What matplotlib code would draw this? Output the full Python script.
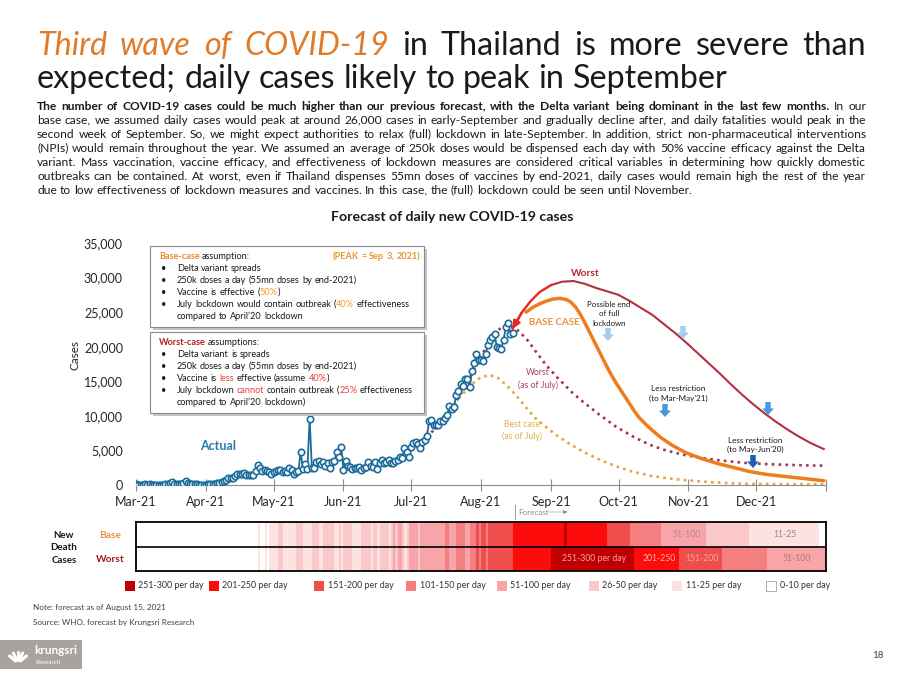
import numpy as np
import pandas as pd
import matplotlib
matplotlib.use('Agg')
import matplotlib.pyplot as plt
import matplotlib.dates as mdates
import matplotlib.transforms as mtransforms
from matplotlib.patches import Rectangle, FancyArrow
from matplotlib.lines import Line2D
from matplotlib.colors import ListedColormap, BoundaryNorm
from matplotlib.ticker import FuncFormatter

FONT = ['Lato', 'DejaVu Sans']
plt.rcParams['font.family'] = FONT

# ---------------------------------------------------------------- data
# actual daily new cases, 1 Mar 2021 - 15 Aug 2021
cases_mar = [90, 50, 45, 60, 80, 55, 80, 40, 45, 55, 60, 50, 65, 90, 150, 250, 450, 200, 120, 110,
             150, 300, 550, 250, 120, 100, 90, 90, 50, 45, 50]
cases_apr = [30, 90, 85, 85, 195, 250, 250, 405, 560, 790, 970, 985, 965, 1335, 1540, 1580, 1550, 1770,
             1390, 1440, 1460, 1470, 2070, 2840, 2440, 2050, 2180, 2010, 1870, 1580]
cases_may = [1890, 2040, 2100, 2110, 1910, 2040, 1900, 2420, 2100, 1630, 1920, 1980, 4800, 2260, 3090,
             2300, 9600, 2440, 2470, 3390, 3480, 3050, 3380, 2710, 3230, 2450, 3320, 3500, 4800, 4000, 5500]
cases_jun = [2200, 3440, 2740, 2630, 2300, 2420, 2420, 2660, 2230, 2420, 2630, 3280, 2800, 2660, 3300,
             2330, 3130, 3670, 3250, 3280, 3680, 3180, 3170, 3410, 3640, 4000, 3850, 5400, 4790, 4110]
cases_jul = [5530, 6090, 6230, 5920, 5420, 6170, 6520, 7060, 9280, 9330, 8660, 8690, 8690, 9320, 9190,
             9690, 10080, 11400, 10930, 11310, 13000, 13660, 14580, 14260, 15340, 15380, 14150, 16530,
             17670, 18910, 18030]
cases_aug = [18020, 17970, 18900, 20200, 20920, 21380, 21840, 19980, 19840, 19600, 21040, 22780, 23420,
             21880, 22000]
actual_cases = cases_mar + cases_apr + cases_may + cases_jun + cases_jul + cases_aug
actual_start = '2021-03-01'

# forecast scenarios
base_dates = ['2021-08-21', '2021-08-24', '2021-08-27', '2021-08-30', '2021-09-02', '2021-09-05',
              '2021-09-08', '2021-09-10', '2021-09-12', '2021-09-14', '2021-09-16', '2021-09-18',
              '2021-09-20', '2021-09-22', '2021-09-24', '2021-09-26', '2021-09-28', '2021-09-30',
              '2021-10-02', '2021-10-04', '2021-10-06', '2021-10-08', '2021-10-10', '2021-10-13',
              '2021-10-16', '2021-10-20', '2021-10-25', '2021-10-31', '2021-11-07', '2021-11-14',
              '2021-11-21', '2021-11-28', '2021-12-05', '2021-12-12', '2021-12-19', '2021-12-26',
              '2021-12-31']
base_vals = [25000, 25700, 26200, 26600, 26900, 27000, 26800, 26400, 25700, 24700, 23500, 22200,
             20900, 19600, 18300, 17000, 15800, 14700, 13700, 12700, 11700, 10700, 9800, 8800,
             7900, 6800, 5700, 4650, 3800, 3100, 2530, 1950, 1560, 1300, 1050, 800, 620]

worst_dates = ['2021-08-15', '2021-08-19', '2021-08-23', '2021-08-27', '2021-09-01', '2021-09-06',
               '2021-09-11', '2021-09-16', '2021-09-21', '2021-09-26', '2021-10-01', '2021-10-06',
               '2021-10-11', '2021-10-16', '2021-10-21', '2021-10-26', '2021-10-31', '2021-11-05',
               '2021-11-10', '2021-11-15', '2021-11-20', '2021-11-25', '2021-11-30', '2021-12-05',
               '2021-12-10', '2021-12-15', '2021-12-20', '2021-12-25', '2021-12-31']
worst_vals = [22600, 24900, 26600, 27900, 28900, 29400, 29500, 29100, 28500, 28000, 27500, 26600,
              25600, 24600, 23300, 22000, 20600, 19100, 17600, 16100, 14500, 13000, 11600, 10300,
              9100, 8000, 7000, 6100, 5200]

worst_july_dates = ['2021-07-10', '2021-07-15', '2021-07-20', '2021-07-25', '2021-07-30', '2021-08-03',
                    '2021-08-07', '2021-08-11', '2021-08-15', '2021-08-18', '2021-08-22', '2021-08-26',
                    '2021-08-30', '2021-09-04', '2021-09-10', '2021-09-15', '2021-09-22', '2021-09-30',
                    '2021-10-08', '2021-10-15', '2021-10-22', '2021-10-30', '2021-11-07', '2021-11-14',
                    '2021-11-21', '2021-11-28', '2021-12-07', '2021-12-16', '2021-12-25', '2021-12-31']
worst_july_vals = [7600, 9300, 11500, 14300, 17300, 19800, 22000, 23000, 22900, 22200, 20800, 19000,
                   17300, 15500, 13500, 12100, 10300, 8400, 6900, 5800, 5000, 4350, 3900, 3600, 3350,
                   3150, 3000, 2900, 2820, 2800]

best_july_dates = ['2021-07-12', '2021-07-16', '2021-07-20', '2021-07-24', '2021-07-28', '2021-08-01',
                   '2021-08-05', '2021-08-09', '2021-08-13', '2021-08-17', '2021-08-21', '2021-08-25',
                   '2021-08-29', '2021-09-03', '2021-09-09', '2021-09-16', '2021-09-23', '2021-09-30',
                   '2021-10-07', '2021-10-15', '2021-10-22', '2021-10-30', '2021-11-10', '2021-11-20',
                   '2021-11-30', '2021-12-15', '2021-12-31']
best_july_vals = [8800, 10000, 11700, 13200, 14600, 15600, 15900, 15400, 14200, 12800, 11200, 9700,
                  8600, 7300, 6000, 4700, 3600, 2700, 1950, 1350, 1000, 720, 420, 250, 150, 110, 100]

# daily new deaths, actual (1 Mar - 14 Aug 2021)
deaths_mar = [0] * 16 + [1] + [0] * 14
deaths_apr = [0, 0, 0, 0, 0, 0, 0, 0, 0, 0, 0, 1, 2, 1, 2, 1, 4, 2, 3, 2, 2, 4, 8, 11, 8, 8, 15, 8, 15, 17]
deaths_may = [21, 17, 31, 27, 18, 15, 18, 19, 14, 21, 31, 32, 34, 25, 17, 25, 25, 31, 35, 32, 25, 20,
              28, 28, 26, 41, 32, 24, 21, 32, 20]
deaths_jun = [26, 31, 39, 27, 24, 22, 21, 22, 31, 32, 28, 27, 20, 29, 29, 25, 42, 26, 26, 37, 22, 33,
              51, 44, 53, 51, 42, 22, 44, 53]
deaths_jul = [57, 61, 57, 44, 57, 53, 54, 75, 72, 91, 80, 80, 80, 98, 75, 141, 141, 86, 80, 81, 106,
              114, 114, 118, 87, 87, 118, 117, 118, 165, 141]
deaths_aug = [178, 188, 147, 188, 160, 191, 180, 170, 165, 175, 190, 176, 185, 195]
actual_deaths = deaths_mar + deaths_apr + deaths_may + deaths_jun + deaths_jul + deaths_aug

# forecast death bands (start date of each band, category label)
base_death_start = ['2021-08-15', '2021-09-07', '2021-09-08', '2021-09-26', '2021-10-06',
                    '2021-10-20', '2021-11-09', '2021-11-28', '2021-12-29']
base_death_cat = ['201-250', '251-300', '201-250', '151-200', '101-150', '51-100', '26-50', '11-25', '0-10']
worst_death_start = ['2021-08-15', '2021-09-01', '2021-10-08', '2021-10-28', '2021-11-16', '2021-12-06']
worst_death_cat = ['201-250', '251-300', '201-250', '151-200', '101-150', '51-100']

cat_labels = ['0-10', '11-25', '26-50', '51-100', '101-150', '151-200', '201-250', '251-300']
cat_upper = [10, 25, 50, 100, 150, 200, 250, 300]
cat_colors = ['#ffffff', '#fde2e2', '#fac8c8', '#f7a5a8', '#f47e80', '#f04d4d', '#fe0b0b', '#c00000']

month_ticks = pd.date_range('2021-03-01', '2022-01-01', freq='MS')
y_ticks = [0, 5000, 10000, 15000, 20000, 25000, 30000, 35000]

# ---------------------------------------------------------------- figure + helpers
W, H = 900, 677
fig = plt.figure(figsize=(9, 6.77), dpi=100)
fig.patch.set_facecolor('white')
PX = mtransforms.Affine2D().scale(1 / W, -1 / H).translate(0, 1) + fig.transFigure
R = fig.canvas.get_renderer()


def ftext(x, y, s, **kw):
    return fig.text(x / W, 1 - y / H, s, **kw)


def tw(s, **kw):
    t = fig.text(0, 0, s, **kw)
    w = t.get_window_extent(R).width
    t.remove()
    return w


def place(x, T, s, size, ha='left', **props):
    """text whose baseline lands exactly on pixel row T (avoids per-word jitter)"""
    T = round(T)
    t = ftext(x, T, s, fontsize=size, va='baseline', ha=ha, **props)
    w, h, d = R.get_text_width_height_descent(s, t.get_fontproperties(), ismath=False)
    A = h - d
    Y = T - np.floor(A) + np.floor(A + d) - d
    t.set_y(1 - Y / H)
    return t


def build_words(segs):
    words, new = [], True
    for text, props in segs:
        parts = text.split(' ')
        for i, p in enumerate(parts):
            if i > 0:
                new = True
            if p == '':
                continue
            if new or not words:
                words.append([])
                new = False
            words[-1].append((p, props))
    return words


def line_width(segs, size):
    words = build_words(segs)
    tot = sum(tw(p, fontsize=size, **pr) for w in words for p, pr in w)
    sp = tw('a a', fontsize=size) - tw('aa', fontsize=size)
    return tot + sp * (len(words) - 1)


def draw_line(x0, yb, segs, size, justify=None, align='left'):
    words = build_words(segs)
    widths = [[tw(p, fontsize=size, **pr) for p, pr in w] for w in words]
    tot = sum(sum(ww) for ww in widths)
    sp = tw('a a', fontsize=size) - tw('aa', fontsize=size)
    gap = (justify - tot) / (len(words) - 1) if (justify and len(words) > 1) else sp
    full = tot + gap * (len(words) - 1)
    x = x0 - full if align == 'right' else x0
    for w, ww in zip(words, widths):
        for (p, pr), pw in zip(w, ww):
            place(x, yb, p, size, **pr)
            x += pw
        x += gap


K = dict(color='#1a1a1a')

# ---------------------------------------------------------------- slide title
t1 = [('Third wave of COVID-19', dict(color='#e07b28', style='italic')),
      (' in Thailand is more severe than', K)]
t2 = [('expected; daily cases likely to peak in September', K)]
ts = 21 * 691 / line_width(t2, 21)
draw_line(37, 55, t1, ts, justify=829)
draw_line(37, 88, t2, ts)

# ---------------------------------------------------------------- paragraph
B = dict(color='#1a1a1a', weight='bold')
para = [
    [('The number of COVID-19 cases could be much higher than our previous forecast, with the Delta variant being dominant in the last few months.', B), (' In our', K)],
    [('base case, we assumed daily cases would peak at around 26,000 cases in early-September and gradually decline after, and daily fatalities would peak in the', K)],
    [('second week of September. So, we might expect authorities to relax (full) lockdown in late-September. In addition, strict non-pharmaceutical interventions', K)],
    [('(NPIs) would remain throughout the year. We assumed an average of 250k doses would be dispensed each day with 50% vaccine efficacy against the Delta', K)],
    [('variant. Mass vaccination, vaccine efficacy, and effectiveness of lockdown measures are considered critical variables in determining how quickly domestic', K)],
    [('outbreaks can be contained. At worst, even if Thailand dispenses 55mn doses of vaccines by end-2021, daily cases would remain high the rest of the year', K)],
    [('due to low effectiveness of lockdown measures and vaccines. In this case, the (full) lockdown could be seen until November.', K)],
]
ps = 8 * 822 / max(line_width(l, 8) for l in para[:-1])
for i, l in enumerate(para):
    draw_line(37, 110 + 14 * i, l, ps, justify=829 if i < len(para) - 1 else None)

# ---------------------------------------------------------------- main chart
ax = fig.add_axes([136 / W, 1 - 485 / H, 690 / W, 242 / H])
ax.set_xlim(pd.Timestamp('2021-03-01'), pd.Timestamp('2022-01-01'))
ax.set_ylim(0, 35000)

dts = lambda l: pd.to_datetime(l)
ax.plot(dts(worst_july_dates), worst_july_vals, color='#a3355a', lw=1.9,
        linestyle=(0, (1, 1.6)), zorder=2)
ax.plot(dts(best_july_dates), best_july_vals, color='#e3a63c', lw=1.9,
        linestyle=(0, (1, 1.6)), zorder=2)
actual_dates = pd.date_range(actual_start, periods=len(actual_cases))
ax.plot(actual_dates, actual_cases, color='#1c6b9b', lw=1.3, marker='o', ms=4.6,
        mfc='white', mec='#1c6b9b', mew=1.2, zorder=3)
ax.plot(dts(base_dates), base_vals, color='#ee7d1f', lw=2.5, zorder=4, solid_capstyle='round',
        solid_joinstyle='round')
wd = dts(worst_dates)
ax.plot(wd[4:], worst_vals[4:], color='#b3303c', lw=1.5, zorder=4)
ax.plot(wd[:5], worst_vals[:5], color='#e8281e', lw=1.7, zorder=4)
ax.annotate('', xy=(wd[0], worst_vals[0]), xytext=(wd[1], worst_vals[1]),
            arrowprops=dict(arrowstyle='-|>', color='#e8281e', lw=1.7, mutation_scale=11,
                            shrinkA=0, shrinkB=0), zorder=5)

for s in ['top', 'right', 'left']:
    ax.spines[s].set_visible(False)
ax.spines['bottom'].set_color('#8c8c8c')
ax.set_xticks(month_ticks)
ax.set_xticklabels([d.strftime('%b-%y') for d in month_ticks[:-1]] + [''])
ax.set_yticks(y_ticks)
ax.yaxis.set_major_formatter(FuncFormatter(lambda v, p: f'{int(v):,}'))
ax.tick_params(axis='x', direction='inout', length=8, color='#8c8c8c', labelsize=9,
               labelcolor='#262626', pad=4)
ax.tick_params(axis='y', length=0, labelsize=9, labelcolor='#262626', pad=9.4)
ax.patch.set_alpha(0)
ftext(75, 355, 'Cases', rotation=90, ha='center', va='center', fontsize=8.5, color='#262626')
ftext(452, 221, 'Forecast of daily new COVID-19 cases', weight='bold', fontsize=10.2,
      ha='center', va='baseline', color='#1a1a1a')

# annotations
ftext(218, 446, 'Actual', weight='bold', fontsize=9, color='#2b7ab0', ha='center', va='center')
ftext(585, 273, 'Worst', weight='bold', fontsize=7.3, color='#b3282d', ha='center', va='center')
ftext(554, 322.5, 'BASE CASE', weight='bold', fontsize=7, color='#ec9440', ha='center', va='center')
ftext(609, 314, 'Possible end\nof full\nlockdown', fontsize=5.7, color='#1a1a1a', ha='center',
      va='center', linespacing=1.4)
ftext(538, 379, 'Worst\n(as of July)', fontsize=6.2, color='#a9415f', ha='center', va='center',
      linespacing=1.45)
ftext(522, 430.5, 'Best case\n(as of July)', fontsize=6.2, color='#e0ae48', ha='center',
      va='center', linespacing=1.45)
ftext(678, 393.5, "Less restriction\n(to Mar-May'21)", fontsize=5.9, color='#1a1a1a',
      ha='center', va='center', linespacing=1.4)
ftext(755, 445, "Less restriction\n(to May-Jun'20)", fontsize=5.9, color='#1a1a1a',
      ha='center', va='center', linespacing=1.4)


def down_arrow(x, ytop, color):
    fig.add_artist(FancyArrow(x, ytop, 0, 13, width=5.5, head_width=12, head_length=6.5,
                              length_includes_head=True, color=color, lw=0, transform=PX))


down_arrow(608, 328, '#a4cdef')
down_arrow(683, 326, '#a4cdef')
down_arrow(665, 404, '#4799df')
down_arrow(768, 402, '#4799df')
down_arrow(753, 455, '#1c60b3')

# assumption boxes
for (y0, y1) in [(246, 327), (332, 413)]:
    fig.add_artist(Rectangle((153, y0 + 3), 274, y1 - y0, transform=PX, facecolor='#c4c4c4',
                             edgecolor='none', zorder=5))
    fig.add_artist(Rectangle((150, y0), 274, y1 - y0, transform=PX, facecolor='white',
                             edgecolor='#8a8a8a', lw=0.8, zorder=6))
OR = dict(color='#f0a030')
RD = dict(color='#e8413c')
bs_probe = [('July lockdown would contain outbreak (40% effectiveness', K)]
bsz = 8 * 235 / line_width(bs_probe, 8)


def box_line(x, y, segs, **kw):
    segs = [(t, {**p, 'zorder': 7}) for t, p in segs]
    draw_line(x, y, segs, bsz, **kw)


box_line(159, 259, [('Base-case', dict(color='#e8892c', weight='bold')), (' assumption:', K)])
box_line(420, 259, [('(PEAK = Sep 3, 2021)', dict(color='#e8962c', weight='bold'))], align='right')
base_items = [
    [('Delta variant spreads', K)],
    [('250k doses a day (55mn doses by end-2021)', K)],
    [('Vaccine is effective (', K), ('50%', OR), (')', K)],
    [('July lockdown would contain outbreak (', K), ('40%', OR), (' effectiveness', K)],
]
for i, it in enumerate(base_items):
    box_line(161, 271 + 12 * i, [('•', K)])
    box_line(177, 271 + 12 * i, it)
box_line(177, 319, [("compared to April’20 lockdown", K)])

box_line(159, 345, [('Worst-case', dict(color='#b02020', weight='bold')), (' assumptions:', K)])
worst_items = [
    [('Delta variant is spreads', K)],
    [('250k doses a day (55mn doses by end-2021)', K)],
    [('Vaccine is ', K), ('less', RD), (' effective (assume ', K), ('40%', RD), (')', K)],
    [('July lockdown ', K), ('cannot', RD), (' contain outbreak (', K), ('25%', RD), (' effectiveness', K)],
]
for i, it in enumerate(worst_items):
    box_line(161, 357 + 12 * i, [('•', K)])
    box_line(177, 357 + 12 * i, it)
box_line(177, 405, [("compared to April’20 lockdown)", K)])

# ---------------------------------------------------------------- death heat strip
days = pd.date_range('2021-03-01', '2021-12-31')
edges_cat = np.array(cat_upper[:-1]) + 0.5
act_cat = np.digitize(actual_deaths, edges_cat)


def fill_row(starts, cats):
    row = np.zeros(len(days), dtype=int)
    row[:len(act_cat)] = act_cat
    st = list(pd.to_datetime(starts)) + [days[-1] + pd.Timedelta(days=1)]
    for i, c in enumerate(cats):
        m = (days >= st[i]) & (days < st[i + 1])
        row[m] = cat_labels.index(c)
    return row


C = np.vstack([fill_row(base_death_start, base_death_cat), fill_row(worst_death_start, worst_death_cat)])
axh = fig.add_axes([136 / W, 1 - 571 / H, 690 / W, 49 / H])
xe = mdates.date2num(pd.date_range('2021-03-01', '2022-01-01'))
axh.pcolormesh(xe, [0, 1, 2], C, cmap=ListedColormap(cat_colors),
               norm=BoundaryNorm(np.arange(-0.5, 8.5), 8), antialiased=False, linewidth=0)
axh.set_xlim(xe[0], xe[-1])
axh.set_ylim(2, 0)
axh.axhline(1, color='black', lw=1.2)
axh.set_xticks([])
axh.set_yticks([])
for s in axh.spines.values():
    s.set_color('black')
    s.set_linewidth(1.3)

hm_labels = [('2021-10-31', 0.5, '51-100', '#b08c8c'), ('2021-12-14', 0.5, '11-25', '#8c8c8c'),
             ('2021-09-20', 1.5, '251-300 per day', '#f2a5a5'), ('2021-10-19', 1.5, '201-250', '#f8b4b4'),
             ('2021-11-07', 1.5, '151-200', '#f8a3ab'), ('2021-12-19', 1.5, '51-100', '#b07a7a')]
for d, y, s, c in hm_labels:
    axh.text(mdates.date2num(pd.Timestamp(d)), y, s, color=c, fontsize=6.2, ha='center', va='center')

ftext(64, 548, 'New\nDeath\nCases', weight='bold', fontsize=7, ha='center', va='center',
      linespacing=1.45, color='#1a1a1a')
ftext(110, 535, 'Base', weight='bold', fontsize=7.3, ha='center', va='center', color='#e8923a')
ftext(110, 560, 'Worst', weight='bold', fontsize=7.3, ha='center', va='center', color='#a01c1c')

# forecast marker
fig.add_artist(Line2D([515, 515], [505, 519], transform=PX, color='#a0a0a0', lw=0.7))
ftext(518, 512.5, 'Forecast', fontsize=5.8, color='#8c8c8c', va='center', ha='left')
fig.add_artist(FancyArrow(549, 512, 19, 0, width=0.5, head_width=4, head_length=5,
                          length_includes_head=True, color='#8c8c8c', lw=0, transform=PX))

# legend
leg_sq_x = [130, 214, 319, 411, 502, 594, 677, 771]
leg_order = list(range(7, -1, -1))
for sx, ci in zip(leg_sq_x, leg_order):
    fig.add_artist(Rectangle((sx - 5, 581), 10, 10, transform=PX, facecolor=cat_colors[ci],
                             edgecolor='#a0a0a0' if ci == 0 else 'none', lw=0.6))
    ftext(sx + 8.5, 586, f'{cat_labels[ci]} per day', fontsize=6.4, color='#333333',
          va='center', ha='left')

# notes, logo, page number
ftext(33, 607, 'Note: forecast as of August 15, 2021', fontsize=5.9, color='#404040', va='center')
ftext(33, 622, 'Source: WHO, forecast by Krungsri Research', fontsize=5.9, color='#404040', va='center')
fig.add_artist(Rectangle((0, 640), 82, 29, transform=PX, facecolor='#a9a39d', edgecolor='none'))
for ang in [-50, -25, 0, 25, 50]:
    a = np.deg2rad(ang)
    fig.add_artist(Line2D([18 + 3 * np.sin(a), 18 + 11 * np.sin(a)],
                          [663 - 3 * np.cos(a), 663 - 11 * np.cos(a)],
                          transform=PX, color='white', lw=2.2, solid_capstyle='round'))
ftext(34, 651, 'krungsri', fontsize=8.5, color='white', va='center', weight='bold')
ftext(35, 662, 'Research', fontsize=4.5, color='white', va='center')
ftext(878, 655, '18', fontsize=7, color='#404040', ha='center', va='center')

fig.savefig('out.png', dpi=100, facecolor='white')
